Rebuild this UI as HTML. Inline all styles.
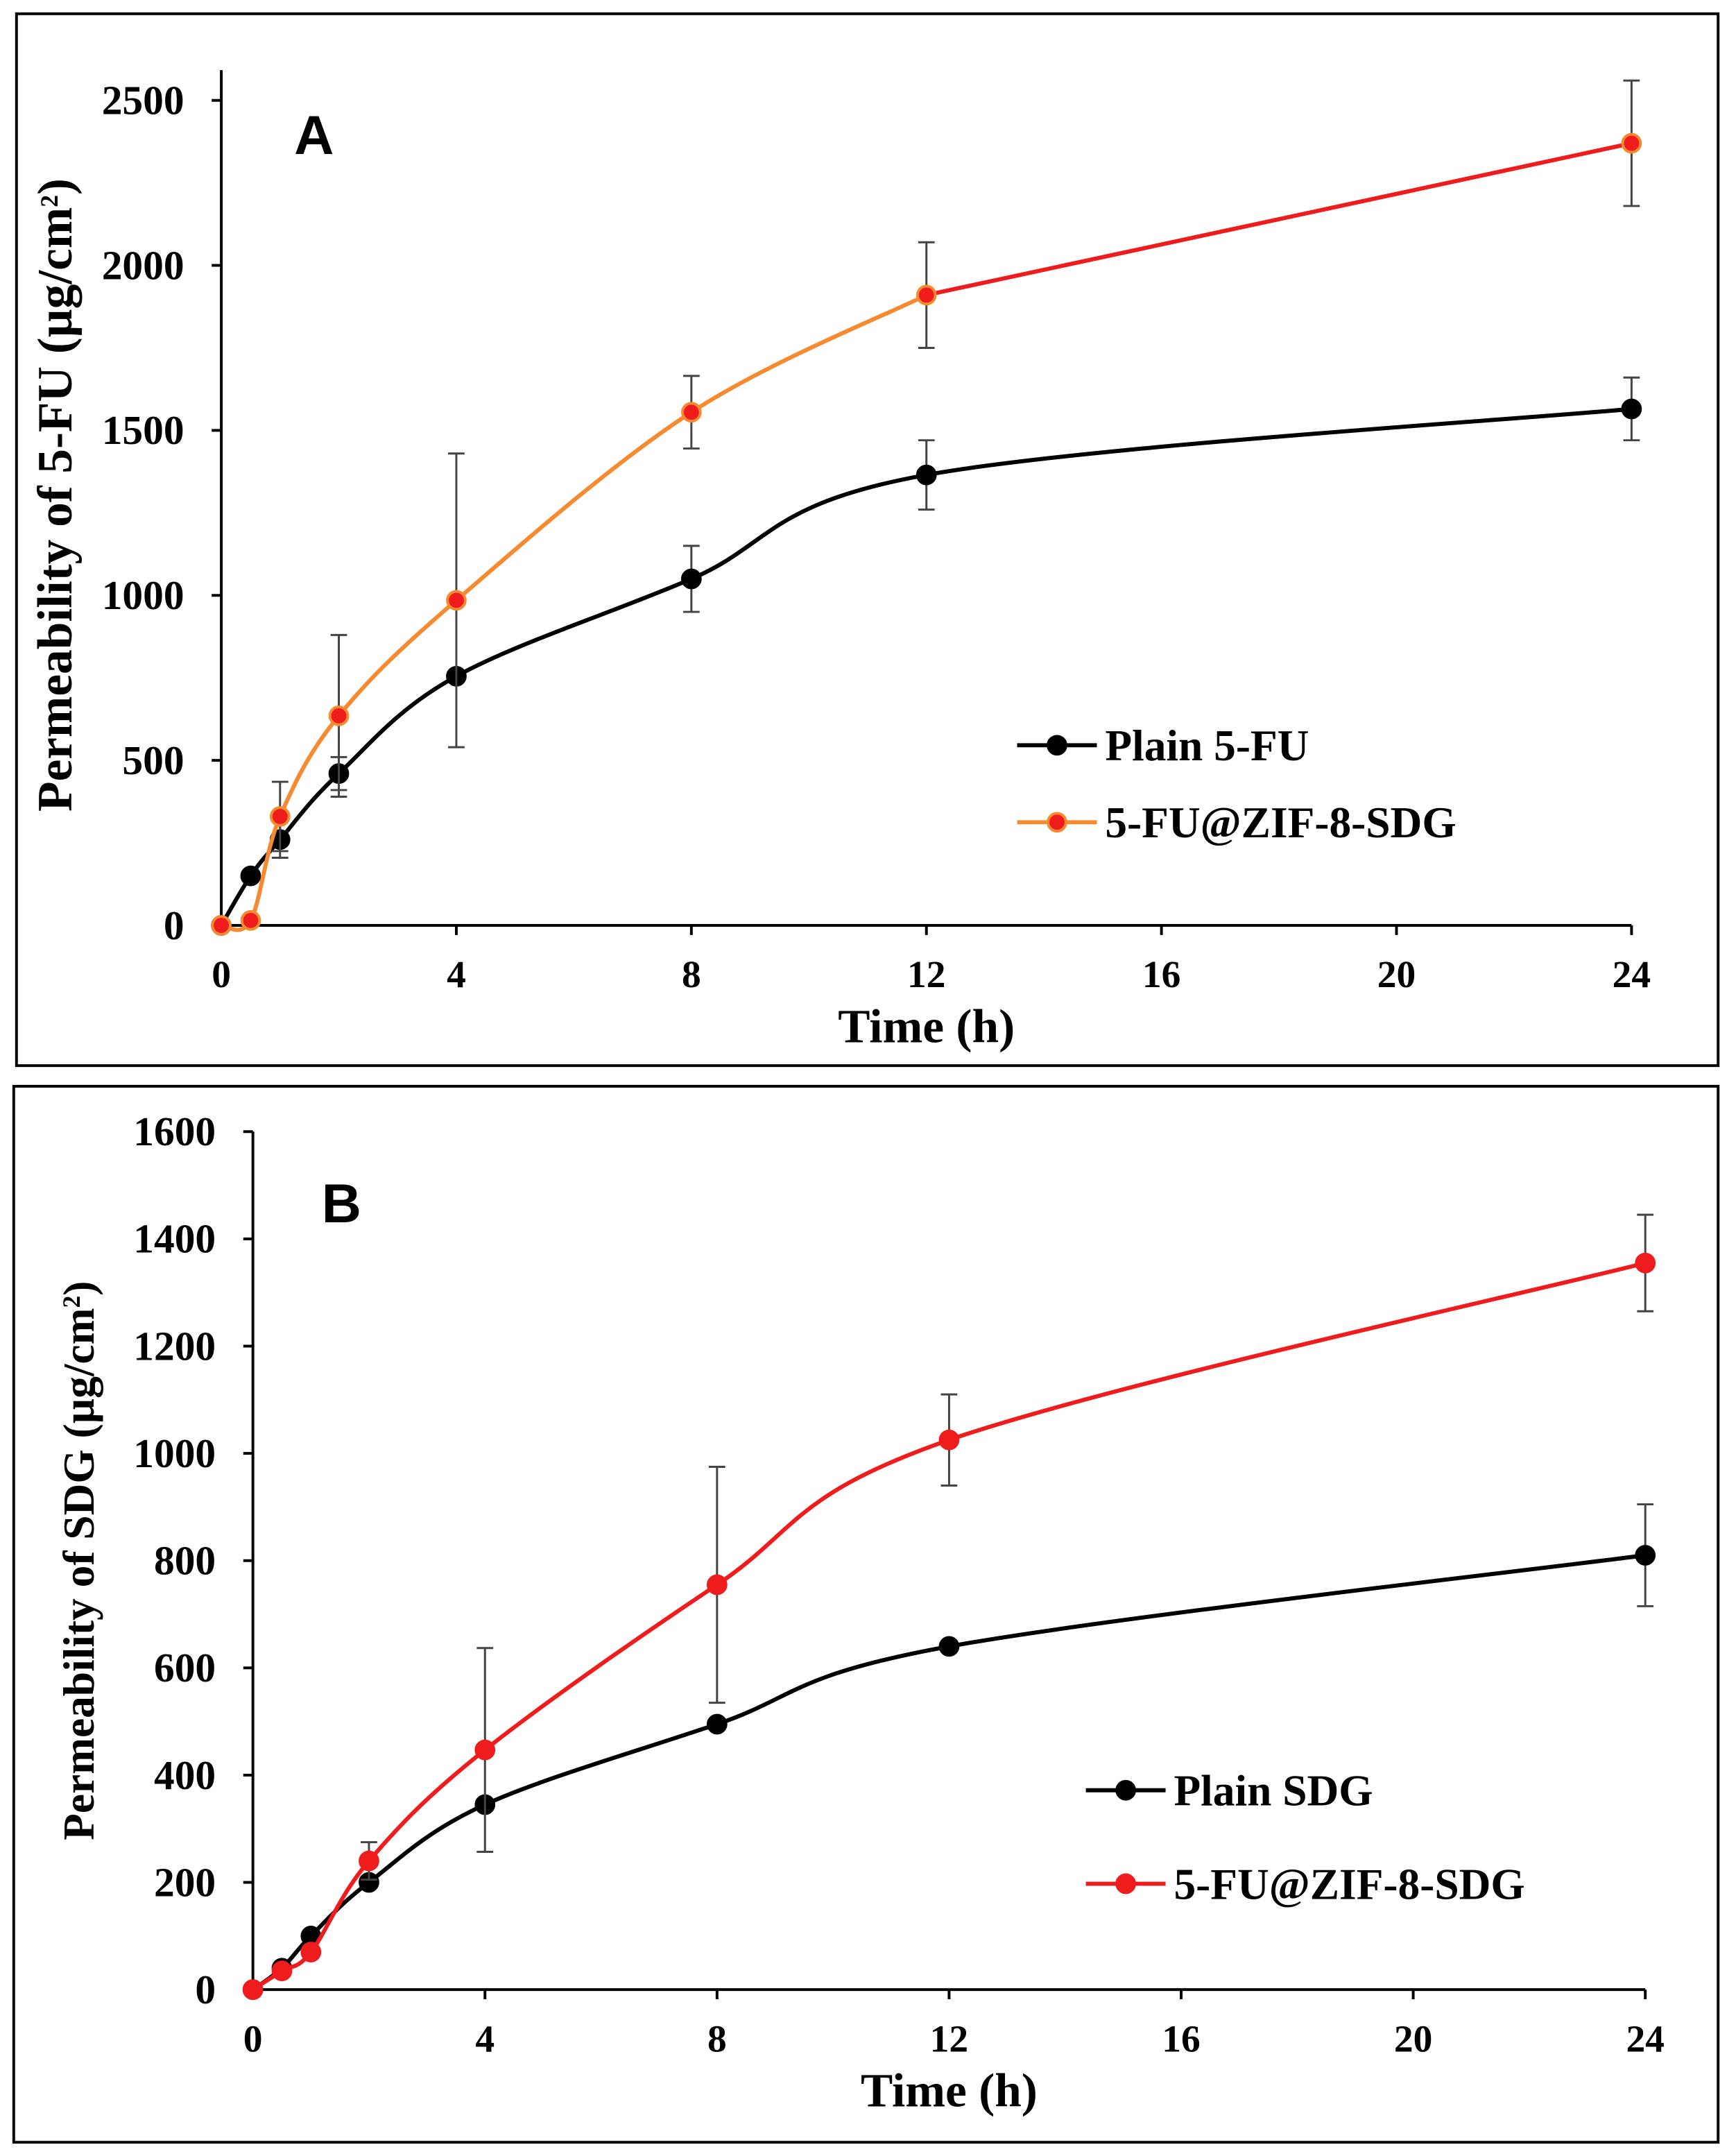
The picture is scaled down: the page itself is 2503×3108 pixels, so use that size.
<!DOCTYPE html>
<html><head><meta charset="utf-8"><style>
html,body{margin:0;padding:0;background:#fff;}
svg{display:block;}
text{font-family:"Liberation Serif",serif;font-weight:bold;fill:#000;}
</style></head><body>
<svg id="c" width="2503" height="3108" viewBox="0 0 1263 1568" preserveAspectRatio="none" xmlns="http://www.w3.org/2000/svg">
<rect x="12" y="10" width="1238" height="765" fill="none" stroke="#000" stroke-width="2"/>
<rect x="10" y="790" width="1240" height="768" fill="none" stroke="#000" stroke-width="2"/>
<g id="ga"></g>
<g id="gb"></g>
</svg>
<script>
const timesA=[0,0.5,1,2,4,8,12,24];
const plainFU=[0,150,260,460,755,1050,1365,1565];
const plainFUErr=[0,0,55,50,0,100,105,95];
const zifFU=[0,15,330,635,985,1555,1910,2370];
const zifFUErr=[0,0,105,245,445,110,160,190];
const yTicksA=[0,500,1000,1500,2000,2500];
const xTicks=[0,4,8,12,16,20,24];
const timesB=[0,0.5,1,2,4,8,12,24];
const plainSDG=[0,40,100,200,345,495,640,810];
const plainSDGErr=[0,0,0,0,0,0,0,95];
const zifSDG=[0,35,70,240,447,755,1025,1355];
const zifSDGErr=[0,0,0,35,190,220,85,90];
const yTicksB=[0,200,400,600,800,1000,1200,1400,1600];
const NS="http://www.w3.org/2000/svg";
function mk(g,tag,attrs,txt){const e=document.createElementNS(NS,tag);for(const k in attrs)e.setAttribute(k,attrs[k]);if(txt!==undefined)e.textContent=txt;g.appendChild(e);return e;}
function smooth(pts){let d=`M${pts[0][0]},${pts[0][1]}`;for(let i=0;i<pts.length-1;i++){const p0=pts[i-1]||pts[i],p1=pts[i],p2=pts[i+1],p3=pts[i+2]||p2;const t=0.17;
d+=` C${p1[0]+(p2[0]-p0[0])*t},${p1[1]+(p2[1]-p0[1])*t} ${p2[0]-(p3[0]-p1[0])*t},${p2[1]-(p3[1]-p1[1])*t} ${p2[0]},${p2[1]}`;}return d;}
function panel(g,o){
const X=v=>o.x0+(o.x1-o.x0)*v/24, Y=v=>o.y0-(o.y0-o.yTop)*v/o.yMax;
let e;
e=mk(g,'line',{x1:o.x0,y1:o.yTop-22*(o.extra||0),x2:o.x0,y2:o.y0,stroke:'#000','stroke-width':2});

e=mk(g,'line',{x1:o.x0,y1:o.y0,x2:o.x1,y2:o.y0,stroke:'#000','stroke-width':2});

o.yt.forEach(v=>{mk(g,'line',{x1:o.x0-7,y1:Y(v),x2:o.x0,y2:Y(v),stroke:'#000','stroke-width':2});
e=mk(g,'text',{x:o.x0-27,y:Y(v)+10,'text-anchor':'end','font-size':30},v);
});
xTicks.forEach(v=>{mk(g,'line',{x1:X(v),y1:o.y0,x2:X(v),y2:o.y0+7,stroke:'#000','stroke-width':2});
e=mk(g,'text',{x:X(v),y:o.y0+45,'text-anchor':'middle','font-size':28},v);
});
e=mk(g,'text',{x:(o.x0+o.x1)/2,y:o.y0+85,'text-anchor':'middle','font-size':35},'Time (h)');

e=mk(g,'text',{x:0,y:0,'text-anchor':'middle','font-size':o.ytsize,transform:`translate(${o.ytx},${o.yty}) rotate(-90)`});
e.innerHTML=o.ytitle+' (µg/cm<tspan baseline-shift="super" font-size="18">2</tspan>)';

e=mk(g,'text',{x:o.lx,y:o.ly,'font-size':40,style:'font-family:"Liberation Sans",sans-serif'},o.letter);

o.series.forEach(s=>{
const pts=o.t.map((t,i)=>[X(t),Y(s.v[i])]);
s.err.forEach((er,i)=>{if(!er)return;const x=X(o.t[i]),a=Y(s.v[i]+er),b=Y(s.v[i]-er);
e=mk(g,'path',{d:`M${x},${a}V${b}M${x-6},${a}H${x+6}M${x-6},${b}H${x+6}`,stroke:'#444','stroke-width':1.5,fill:'none'});
});
if(s.split){const k=o.t.indexOf(12);
e=mk(g,'path',{d:smooth(pts.slice(0,k+1)),stroke:s.line,'stroke-width':3,fill:'none'});

e=mk(g,'path',{d:`M${pts[k][0]},${pts[k][1]}L${pts[k+1][0]},${pts[k+1][1]}`,stroke:'#ee1c1c','stroke-width':3,fill:'none'});
}
else{e=mk(g,'path',{d:smooth(pts),stroke:s.line,'stroke-width':3,fill:'none'});
}
pts.forEach(p=>{e=mk(g,'circle',{cx:p[0],cy:p[1],r:6.5,fill:s.fill,stroke:s.line,'stroke-width':2});
});
});
o.legend.forEach((l,i)=>{const y=l.y;
e=mk(g,'line',{x1:l.x,y1:y,x2:l.x+58,y2:y,stroke:l.line,'stroke-width':3});

mk(g,'circle',{cx:l.x+29,cy:y,r:6.5,fill:l.fill,stroke:l.line,'stroke-width':2});
e=mk(g,'text',{x:l.x+64,y:y+11,'font-size':32},l.label);
});
}
panel(document.getElementById('ga'),{x0:161,x1:1187,y0:673,yTop:73,yMax:2500,extra:1,yt:yTicksA,t:timesA,
ytitle:'Permeability of 5-FU',ytx:52,yty:360,ytsize:36,lx:214,ly:112,letter:'A',
series:[{name:'plain-5fu',v:plainFU,err:plainFUErr,line:'#000',fill:'#000'},
{name:'zif-5fu',v:zifFU,err:zifFUErr,line:'#f58a30',fill:'#ee1c1c',split:true}],
legend:[{x:740,y:542,line:'#000',fill:'#000',label:'Plain 5-FU'},{x:740,y:598,line:'#f58a30',fill:'#ee1c1c',label:'5-FU@ZIF-8-SDG'}]});
panel(document.getElementById('gb'),{x0:184,x1:1197,y0:1447,yTop:823,yMax:1600,yt:yTicksB,t:timesB,
ytitle:'Permeability of SDG',ytx:68,yty:1135,ytsize:32,lx:234,ly:889,letter:'B',
series:[{name:'plain-sdg',v:plainSDG,err:plainSDGErr,line:'#000',fill:'#000'},
{name:'zif-sdg',v:zifSDG,err:zifSDGErr,line:'#ee1c1c',fill:'#ee1c1c'}],
legend:[{x:790,y:1302,line:'#000',fill:'#000',label:'Plain SDG'},{x:790,y:1370,line:'#ee1c1c',fill:'#ee1c1c',label:'5-FU@ZIF-8-SDG'}]});
</script>
</body></html>
